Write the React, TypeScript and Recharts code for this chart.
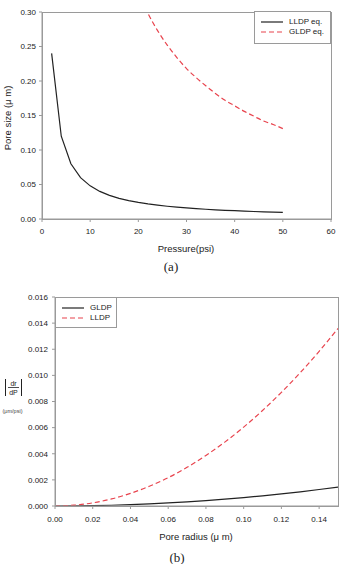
import React from 'react';
import { LineChart, Line, XAxis, YAxis } from 'recharts';

const sans = '"Liberation Sans", Arial, sans-serif';
const serif = '"Liberation Serif", "Times New Roman", serif';
const frame = '#9a9a9a';
const ink = '#222';
const red = '#e8434d';

// (a) pore size against applied pressure
const pressureLLDP = [2, 4, 6, 8, 10, 12, 14, 16, 18, 20, 22, 24, 26, 28, 30, 32, 34, 36, 38, 40, 42, 44, 46, 48, 50];
const poreSizeLLDP = [0.24, 0.12, 0.08, 0.06, 0.048, 0.04, 0.0343, 0.03, 0.0267, 0.024, 0.0218, 0.02, 0.0185, 0.0171, 0.016, 0.015, 0.0141, 0.0133, 0.0126, 0.012, 0.0114, 0.0109, 0.0104, 0.01, 0.0096];
const pressureGLDP = [20, 22, 24, 26, 28, 30, 32, 34, 36, 38, 40, 42, 44, 46, 48, 50];
const poreSizeGLDP = [0.328, 0.298, 0.273, 0.252, 0.234, 0.218, 0.205, 0.193, 0.182, 0.172, 0.164, 0.156, 0.149, 0.142, 0.137, 0.131];
const pressureTicks = [0, 10, 20, 30, 40, 50, 60];
const poreSizeTicks = [0, 0.05, 0.1, 0.15, 0.2, 0.25, 0.3];

// (b) |dr/dP| against pore radius
const radius = [0, 0.01, 0.02, 0.03, 0.04, 0.05, 0.06, 0.07, 0.08, 0.09, 0.1, 0.11, 0.12, 0.13, 0.14, 0.15];
const slopeGLDP = [0, 0.000006, 0.000026, 0.000058, 0.000103, 0.000161, 0.000232, 0.000316, 0.000412, 0.000522, 0.000644, 0.000779, 0.000927, 0.001088, 0.001262, 0.001449];
const slopeLLDP = [0, 0.00006, 0.00024, 0.00054, 0.00097, 0.00151, 0.00217, 0.00296, 0.00387, 0.00489, 0.00604, 0.00731, 0.0087, 0.01021, 0.01184, 0.01359];
const radiusTicks = [0, 0.02, 0.04, 0.06, 0.08, 0.1, 0.12, 0.14];
const slopeTicks = [0, 0.002, 0.004, 0.006, 0.008, 0.01, 0.012, 0.014, 0.016];

const lldpA = pressureLLDP.map((p, i) => ({ p, v: poreSizeLLDP[i] }));
const gldpA = pressureGLDP.map((p, i) => ({ p, v: poreSizeGLDP[i] }));
const tableB = radius.map((r, i) => ({ r, gldp: slopeGLDP[i], lldp: slopeLLDP[i] }));

const tickStyle = { fontSize: 8, fill: ink, fontFamily: sans };

function LegendBox({ left, top, width, height, items }: { left: number; top: number; width: number; height: number; items: { name: string; color: string; dash?: string }[] }) {
  return (
    <div style={{ position: 'absolute', left, top, width, height, boxSizing: 'border-box', border: `1.5px solid ${frame}`, background: '#fff' }}>
      {items.map((it, i) => (
        <div key={it.name} style={{ position: 'absolute', left: 6, top: 5 + i * 10, height: 10, display: 'flex', alignItems: 'center' }}>
          <svg width={22} height={4} style={{ display: 'block' }}>
            <line x1={0} y1={2} x2={22} y2={2} stroke={it.color} strokeWidth={1.2} strokeDasharray={it.dash} />
          </svg>
          <span style={{ marginLeft: 6, fontFamily: sans, fontSize: 8, color: ink, lineHeight: '10px', whiteSpace: 'nowrap' }}>{it.name}</span>
        </div>
      ))}
    </div>
  );
}

// plot-area outline (top and right sides of the box)
function Frame({ left, top, width, height }: { left: number; top: number; width: number; height: number }) {
  return (
    <div style={{ position: 'absolute', left: left - 0.5, top: top - 0.5, width: width + 1, height: height + 1, boxSizing: 'border-box', border: `1px solid ${frame}`, pointerEvents: 'none' }} />
  );
}

export default function App() {
  return (
    <div style={{ position: 'absolute', left: 0, top: 0, width: 343, height: 564, background: '#fff', overflow: 'hidden' }}>
      {/* (a) */}
      <div style={{ position: 'absolute', left: 0, top: 0 }}>
        <LineChart width={343} height={280} margin={{ top: 12, right: 12, bottom: 41, left: 0 }}>
          <XAxis dataKey="p" type="number" domain={[0, 60]} ticks={pressureTicks} allowDuplicatedCategory={false}
            height={20} tickSize={3} tickMargin={6} tick={tickStyle} axisLine={{ stroke: frame }} tickLine={{ stroke: frame }} />
          <YAxis type="number" domain={[0, 0.3]} ticks={poreSizeTicks} allowDataOverflow width={42} tickSize={3} tickMargin={3}
            tick={tickStyle} tickFormatter={(v: number) => v.toFixed(2)} axisLine={{ stroke: frame }} tickLine={{ stroke: frame }} />
          <Line data={lldpA} dataKey="v" type="linear" stroke={ink} strokeWidth={1.2} dot={false} isAnimationActive={false} />
          <Line data={gldpA} dataKey="v" type="monotone" stroke={red} strokeWidth={1.2} strokeDasharray="5 3" dot={false} isAnimationActive={false} />
        </LineChart>
      </div>
      <Frame left={42} top={12} width={289} height={207} />
      <LegendBox left={254} top={11} width={77} height={33}
        items={[{ name: 'LLDP eq.', color: ink }, { name: 'GLDP eq.', color: red, dash: '5 3' }]} />
      <div style={{ position: 'absolute', left: 6.5, top: 117.5, transform: 'translate(-50%, -50%) rotate(-90deg)', fontFamily: sans, fontSize: 9.5, color: ink, whiteSpace: 'nowrap' }}>
        Pore size (μ m)
      </div>
      <div style={{ position: 'absolute', left: 186, top: 248, transform: 'translate(-50%, -50%)', fontFamily: sans, fontSize: 9.5, color: ink, whiteSpace: 'nowrap' }}>
        Pressure(psi)
      </div>
      <div style={{ position: 'absolute', left: 171, top: 267, transform: 'translate(-50%, -50%)', fontFamily: serif, fontSize: 13, color: ink, whiteSpace: 'nowrap' }}>
        (a)
      </div>

      {/* (b) */}
      <div style={{ position: 'absolute', left: 0, top: 280 }}>
        <LineChart width={343} height={284} data={tableB} margin={{ top: 17, right: 5, bottom: 38, left: 0 }}>
          <XAxis dataKey="r" type="number" domain={[0, 0.15]} ticks={radiusTicks} allowDataOverflow
            height={20} tickSize={3} tickMargin={7} tick={tickStyle} tickFormatter={(v: number) => v.toFixed(2)}
            axisLine={{ stroke: frame }} tickLine={{ stroke: frame }} />
          <YAxis type="number" domain={[0, 0.016]} ticks={slopeTicks} width={55} tickSize={3} tickMargin={4}
            tick={tickStyle} tickFormatter={(v: number) => v.toFixed(3)} axisLine={{ stroke: frame }} tickLine={{ stroke: frame }} />
          <Line dataKey="gldp" type="monotone" stroke={ink} strokeWidth={1.2} dot={false} isAnimationActive={false} />
          <Line dataKey="lldp" type="monotone" stroke={red} strokeWidth={1.2} strokeDasharray="5 3" dot={false} isAnimationActive={false} />
        </LineChart>
      </div>
      <Frame left={55} top={297} width={283} height={209} />
      <LegendBox left={55} top={297} width={62} height={31}
        items={[{ name: 'GLDP', color: ink }, { name: 'LLDP', color: red, dash: '5 3' }]} />
      {/* |dr/dP| (μm/psi) axis title */}
      <svg style={{ position: 'absolute', left: 0, top: 374 }} width={26} height={44}>
        <line x1={5.5} y1={5} x2={5.5} y2={22} stroke={ink} strokeWidth={1} />
        <line x1={21.5} y1={5} x2={21.5} y2={22} stroke={ink} strokeWidth={1} />
        <line x1={8} y1={13.5} x2={19} y2={13.5} stroke={ink} strokeWidth={0.8} />
        <text x={13.5} y={11.5} textAnchor="middle" fontFamily={sans} fontSize={7} fill={ink}>dr</text>
        <text x={13.5} y={20.5} textAnchor="middle" fontFamily={sans} fontSize={7} fill={ink}>dP</text>
        <text x={12.5} y={39} textAnchor="middle" fontFamily={sans} fontSize={5.5} fill="#444">(μm/psi)</text>
      </svg>
      <div style={{ position: 'absolute', left: 196, top: 536, transform: 'translate(-50%, -50%)', fontFamily: sans, fontSize: 9.5, color: ink, whiteSpace: 'nowrap' }}>
        Pore radius (μ m)
      </div>
      <div style={{ position: 'absolute', left: 177, top: 558, transform: 'translate(-50%, -50%)', fontFamily: serif, fontSize: 13, color: ink, whiteSpace: 'nowrap' }}>
        (b)
      </div>
    </div>
  );
}
